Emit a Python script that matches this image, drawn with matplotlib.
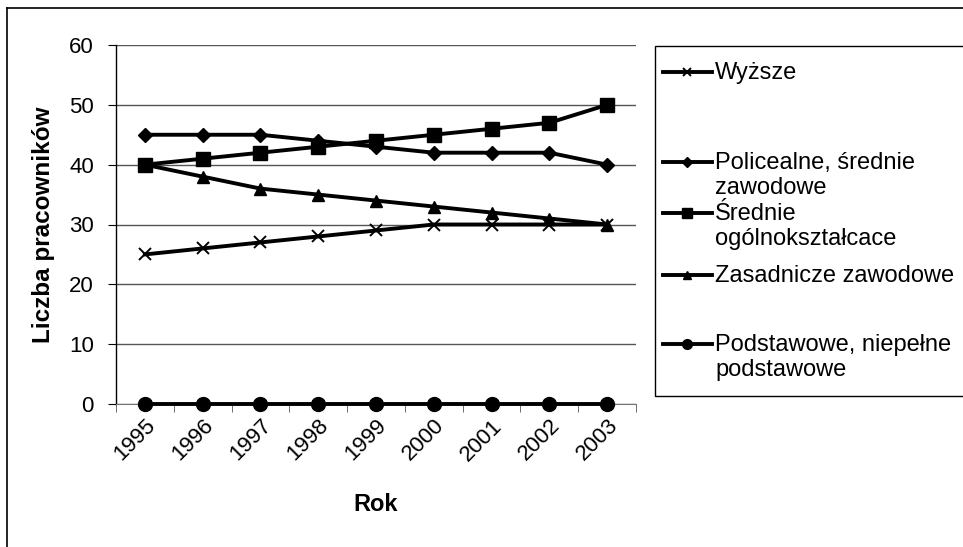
import matplotlib.pyplot as plt
from matplotlib.lines import Line2D
from matplotlib.patches import Rectangle

years = ["1995", "1996", "1997", "1998", "1999", "2000", "2001", "2002", "2003"]
wyzsze = [25, 26, 27, 28, 29, 30, 30, 30, 30]
policealne = [45, 45, 45, 44, 43, 42, 42, 42, 40]
srednie_ogolne = [40, 41, 42, 43, 44, 45, 46, 47, 50]
zasadnicze = [40, 38, 36, 35, 34, 33, 32, 31, 30]
podstawowe = [0, 0, 0, 0, 0, 0, 0, 0, 0]

labels = [
    "Wyższe",
    "Policealne, średnie\nzawodowe",
    "Średnie\nogólnokształcace",
    "Zasadnicze zawodowe",
    "Podstawowe, niepełne\npodstawowe",
]

plt.rcParams["font.family"] = ["Liberation Sans", "DejaVu Sans"]

W, H = 963, 547
fig = plt.figure(figsize=(W / 100, H / 100), dpi=100)


def fx(px):
    return px / W


def fy(py):
    return 1 - py / H


ax = fig.add_axes([fx(116), fy(404), fx(636) - fx(116), fy(45) - fy(404)])

x = list(range(len(years)))
series = [
    (wyzsze, dict(marker="x", markersize=9, markeredgewidth=1.4)),
    (policealne, dict(marker="D", markersize=7.5)),
    (srednie_ogolne, dict(marker="s", markersize=10)),
    (zasadnicze, dict(marker="^", markersize=9)),
    (podstawowe, dict(marker="o", markersize=10)),
]
for vals, st in series:
    ax.plot(x, vals, color="black", linewidth=2.8, clip_on=False, zorder=3, **st)

ax.set_xlim(-0.5, len(years) - 0.5)
ax.set_ylim(0, 60)
ax.set_yticks(range(0, 61, 10))
ax.yaxis.grid(True, color="#555555", linewidth=1.0)
ax.set_axisbelow(True)
for s in ["top", "right"]:
    ax.spines[s].set_visible(False)
ax.spines["bottom"].set_color("#777777")
ax.spines["left"].set_linewidth(1.0)

ax.set_xticks(x)
ax.set_xticklabels(years, rotation=45, ha="right", rotation_mode="anchor", fontsize=16)
ax.tick_params(axis="x", length=0, pad=8)
ax.set_xticks([i - 0.5 for i in range(len(years) + 1)], minor=True)
ax.tick_params(axis="x", which="minor", length=6, direction="out", color="#555555")
ax.tick_params(axis="y", labelsize=16, length=6, direction="out", pad=10)

ax.set_ylabel("Liczba pracowników", fontsize=17.5, fontweight="bold", labelpad=10)
ax.set_xlabel("Rok", fontsize=17, fontweight="bold", labelpad=20)

# outer chart border (left and top edges visible)
fig.add_artist(Line2D([fx(7), fx(7)], [fy(8), 0], transform=fig.transFigure, color="black", lw=1.2))
fig.add_artist(Line2D([fx(7), 1], [fy(8), fy(8)], transform=fig.transFigure, color="black", lw=1.2))

# legend box
fig.add_artist(Rectangle((fx(655), fy(396)), fx(330), fy(46) - fy(396),
                         transform=fig.transFigure, fill=False, edgecolor="black", lw=1.0))

legend_y = [72, 162, 213, 275, 344]
for (vals, st), lab, ly in zip(series, labels, legend_y):
    ms = st.get("markersize", 8) * 0.7
    fig.add_artist(Line2D([fx(663), fx(687), fx(712)], [fy(ly)] * 3, transform=fig.transFigure,
                          color="black", lw=2.8, marker=st["marker"], markersize=ms,
                          markeredgewidth=st.get("markeredgewidth", 1.0), markevery=[1]))
    fig.text(fx(715), fy(ly - 10), lab, fontsize=17, va="top", ha="left", linespacing=1.15)

fig.savefig("out.png", dpi=100)
